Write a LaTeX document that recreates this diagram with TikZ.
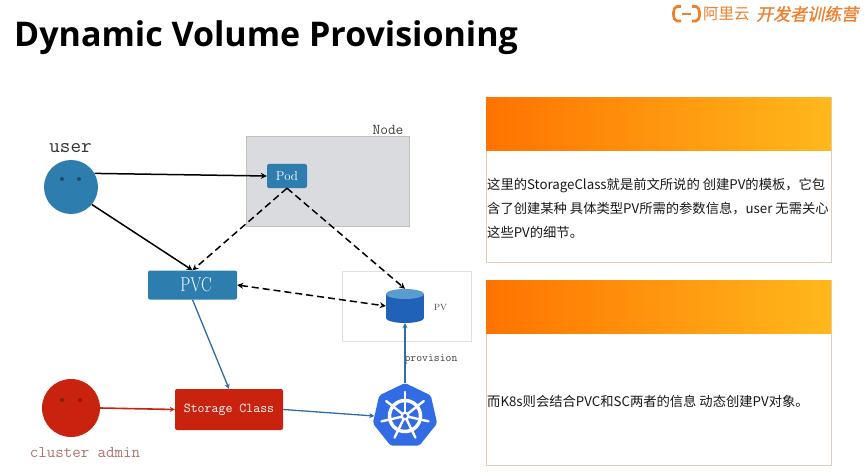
\documentclass[tikz,border=0pt]{standalone}
\usepackage{fontspec}
\setmainfont{Latin Modern Roman}
\setsansfont{Open Sans}
\newfontfamily\cjkbody{Noto Sans CJK SC}
\newfontfamily\cjklogo[FakeSlant=0.2,FakeBold=1]{Noto Sans CJK SC}
\usetikzlibrary{shapes.geometric,arrows.meta,calc}

\definecolor{userblue}{HTML}{2E7DAF}
\definecolor{adminred}{HTML}{C9230F}
\definecolor{linkblue}{HTML}{2F6CA8}
\definecolor{kubeblue}{HTML}{326CE5}
\definecolor{logoorange}{HTML}{EE7F2D}
\definecolor{nodegray}{HTML}{D9DBDF}
\definecolor{bandleft}{HTML}{FF7300}
\definecolor{bandright}{HTML}{FFB81C}
\definecolor{pvbody}{HTML}{2062B8}
\definecolor{pvtop}{HTML}{5A9BD0}

\tikzset{
    solidlink/.style={-{Stealth[length=6pt,width=6pt]}, line width=1.5pt},
    dashlink/.style={-{Stealth[length=6pt,width=6pt]}, line width=1.5pt, dash pattern=on 7pt off 4pt},
    dashboth/.style={dashlink, {Stealth[length=6pt,width=6pt]}-{Stealth[length=6pt,width=6pt]}},
    bluelink/.style={-{Stealth[length=5pt,width=5pt]}, line width=1.3pt, linkblue},
    face/.style={draw=none, circle, inner sep=0pt},
    bluebox/.style={draw=none, rectangle, rounded corners=2pt, fill=userblue, text=white, inner sep=0pt},
    band/.style={draw=none, rectangle, anchor=north west, minimum width=345pt, minimum height=53pt, inner sep=0pt, left color=bandleft, right color=bandright},
    panel/.style={draw=brown!40, rectangle, anchor=north west, minimum width=345pt, fill=white, inner sep=0pt},
    paneltext/.style={anchor=west, align=left, inner sep=0pt, font=\cjkbody\fontsize{13.3}{24}\selectfont, text=black!90},
    monolabel/.style={inner sep=0pt, font=\ttfamily}
}

\begin{document}
\begin{tikzpicture}[x=1pt, y=-1pt]
\useasboundingbox (0,0) rectangle (865,476);
\fill[white] (0,0) rectangle (865,476);

% Title and logo
\node[anchor=west, inner sep=0pt, font=\sffamily\bfseries\fontsize{34}{38}\selectfont] (title) at (14,38) {Dynamic Volume Provisioning};
\node[anchor=west, inner sep=0pt, text=logoorange, font=\cjkbody\fontsize{15.5}{18}\selectfont] (cloudname) at (703,14) {阿里云};
\node[anchor=west, inner sep=0pt, text=logoorange, font=\cjklogo\fontsize{17}{20}\selectfont] (campname) at (756,14) {开发者训练营};
\draw[logoorange, line width=2.6pt, rounded corners=2pt] (681,6.5) -- (675,6.5) -- (673,14) -- (675,21) -- (681,21);
\draw[logoorange, line width=2.6pt, rounded corners=2pt] (692,6.5) -- (698,6.5) -- (700,14) -- (698,21) -- (692,21);
\draw[logoorange, line width=1.8pt] (682,14) -- (691,14);

% Right hand panels
\node[panel, minimum height=165pt] (panelA) at (486,97) {};
\node[band] (bandA) at (486,97) {};
\node[paneltext] (textA) at (487,208) {这里的StorageClass就是前文所说的 创建PV的模板，它包\\含了创建某种 具体类型PV所需的参数信息，user 无需关心\\这些PV的细节。};
\node[panel, minimum height=185pt] (panelB) at (486,280) {};
\node[band] (bandB) at (486,280) {};
\node[paneltext] (textB) at (487,401) {而K8s则会结合PVC和SC两者的信息 动态创建PV对象。};

% Node and PV frames
\node[draw=black!25, fill=nodegray, rectangle, minimum width=163pt, minimum height=89pt, inner sep=0pt, line width=1pt] (node) at (327.5,181.5) {};
\node[monolabel, font=\ttfamily\fontsize{15}{16}\selectfont, text=black!75] (nodelabel) at (388,130) {Node};
\node[draw=black!12, fill=white, rectangle, minimum width=129pt, minimum height=70pt, inner sep=0pt] (pvframe) at (406.5,306) {};

% Users
\node[face, fill=userblue, minimum size=54pt] (user) at (71,187) {};
\node[monolabel, font=\ttfamily\fontsize{20.5}{22}\selectfont, text=black!80] (userlabel) at (70.5,148) {user};
\foreach \x in {62,79} {
    \fill[black!40!userblue] (\x,179) circle (2pt);
}
\node[face, fill=adminred, minimum size=58pt] (admin) at (71,408) {};
\node[monolabel, font=\ttfamily\fontsize{16.5}{18}\selectfont, text=red!45!black!55] (adminlabel) at (85,453) {cluster admin};
\foreach \x in {62,80} {
    \fill[black!30!adminred] (\x,400) circle (2pt);
}

% Boxes
\node[bluebox, minimum width=40pt, minimum height=24pt, font=\fontsize{13}{14}\selectfont] (pod) at (287,176) {Pod};
\node[bluebox, minimum width=89pt, minimum height=29pt, font=\fontsize{20}{22}\selectfont] (pvc) at (192.5,285) {\hspace*{7pt}\scalebox{.8}[1]{PVC}};
\node[bluebox, fill=adminred, minimum width=108pt, minimum height=41pt, font=\ttfamily\fontsize{13.5}{15}\selectfont] (sc) at (229,409.5) {Storage Class};

% PV cylinder
\node[draw=none, rectangle, minimum width=38pt, minimum height=34pt, inner sep=0pt] (pv) at (405,306) {};
\fill[pvbody] (386,294) rectangle (424,318);
\fill[pvbody] (405,318) ellipse (19pt and 5pt);
\fill[pvtop] (405,294) ellipse (19pt and 5pt);
\node[inner sep=0pt, font=\fontsize{9}{10}\selectfont, text=black!70] (pvlabel) at (440.5,308) {PV};

% Kubernetes wheel
\node[draw=none, regular polygon, regular polygon sides=7, fill=kubeblue, minimum size=66pt, inner sep=0pt, rounded corners=2pt] (kube) at (405,416) {};
\draw[white, line width=3.5pt] (kube.center) circle (15.5pt);
\foreach \a in {0,...,6} {
    \draw[white, line width=2.4pt, line cap=round] (kube.center) -- ++({90+\a*360/7}:24pt);
}
\fill[white] (kube.center) circle (4.5pt);
\fill[kubeblue] (kube.center) circle (2pt);
\node[monolabel, font=\ttfamily\fontsize{11.4}{13}\selectfont, text=black!75] (provlabel) at (431,359.5) {provision};

% Connectors
\draw[solidlink] (user.30) -- (pod.west);
\draw[solidlink] (user.-40) -- (pvc.north);
\draw[dashlink] (pod.south) -- (pvc.north);
\draw[dashlink] (pod.south) -- (pv.north);
\draw[dashboth] (pvc.east) -- (pv.west);
\draw[bluelink] (pvc.south) -- (sc.north);
\draw[bluelink, line width=1.6pt, adminred] (admin.east) -- (sc.west);
\draw[bluelink] (sc.east) -- (kube.west);
\draw[bluelink, line width=1.6pt] (kube.north) -- (pv.south);
\end{tikzpicture}
\end{document}
